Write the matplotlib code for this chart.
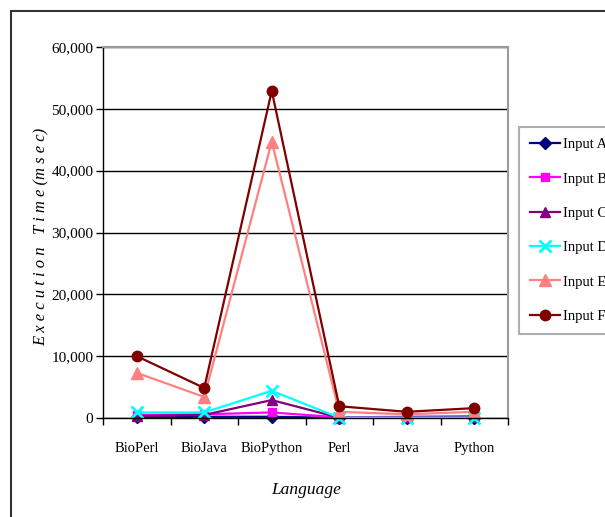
import matplotlib
matplotlib.use("Agg")
import matplotlib.pyplot as plt
from matplotlib.patches import Rectangle
from matplotlib.ticker import FuncFormatter, FixedLocator

categories = ["BioPerl", "BioJava", "BioPython", "Perl", "Java", "Python"]
input_a = [100, 200, 200, 20, 50, 50]
input_b = [500, 600, 900, 100, 200, 300]
input_c = [300, 500, 2900, 50, 100, 100]
input_d = [900, 900, 4400, 50, 50, 50]
input_e = [7300, 3400, 44700, 1000, 600, 1000]
input_f = [10000, 4850, 52900, 1900, 1000, 1600]
series_names = ["Input A", "Input B", "Input C", "Input D", "Input E", "Input F"]
y_ticks = [0, 10000, 20000, 30000, 40000, 50000, 60000]

plt.rcParams['font.family'] = ['Liberation Serif', 'DejaVu Serif']

W, H = 605, 517
fig = plt.figure(figsize=(W / 100, H / 100), dpi=100)
ax = fig.add_axes([103 / W, 1 - 418 / H, (508 - 103) / W, (418 - 47) / H])

styles = [
    dict(color="#000080", marker="D", ms=6),
    dict(color="#FF00FF", marker="s", ms=6),
    dict(color="#800080", marker="^", ms=7),
    dict(color="#00FFFF", marker="x", ms=8, mew=2),
    dict(color="#FF8080", marker="^", ms=8),
    dict(color="#800000", marker="o", ms=7.5),
]
data = [input_a, input_b, input_c, input_d, input_e, input_f]
x = list(range(len(categories)))
lines = []
for name, vals, st in zip(series_names, data, styles):
    l, = ax.plot(x, vals, lw=1.6, label=name, clip_on=False, **st)
    lines.append(l)

ax.set_xlim(-0.5, len(categories) - 0.5)
ax.set_ylim(0, 60000)
ax.set_yticks(y_ticks)
ax.yaxis.set_major_formatter(FuncFormatter(lambda v, p: f"{int(v):,}"))
ax.yaxis.grid(True, color="black", lw=1)
ax.set_axisbelow(True)
ax.set_xticks(x)
ax.set_xticklabels(categories, fontsize=10.5)
ax.tick_params(axis='x', which='major', length=0, pad=17)
ax.xaxis.set_minor_locator(FixedLocator([i - 0.5 for i in range(len(categories) + 1)]))
ax.tick_params(axis='x', which='minor', length=5, direction='out', width=1, color='black')
ax.tick_params(axis='y', length=5, direction='out', width=1, labelsize=11, color='black', pad=2)
for s in ["top", "right"]:
    ax.spines[s].set_color("#9a9a9a")
    ax.spines[s].set_linewidth(1.5)
for s in ["left", "bottom"]:
    ax.spines[s].set_color("black")
    ax.spines[s].set_linewidth(1)

fig.text(42 / W, 1 - 237 / H, "E x e c u t i o n   T i m e (m s e c)", rotation=90,
         ha="center", va="center", fontsize=12, style="italic")
fig.text(306 / W, 1 - 490 / H, "Language", ha="center", va="center",
         fontsize=12.5, style="italic")

leg = fig.legend(handles=lines, loc="upper left", bbox_to_anchor=(519 / W, 1 - 127 / H),
                 frameon=True, fontsize=10.5, handlelength=2.05, labelspacing=1.45,
                 borderpad=0.75, borderaxespad=0, handletextpad=0.25, fancybox=False)
leg.get_frame().set_edgecolor("#9a9a9a")
leg.get_frame().set_linewidth(1.5)

fig.patches.append(Rectangle((11 / W, -0.1), 1.2, 1 - 11 / H + 0.1, transform=fig.transFigure,
                             fill=False, edgecolor="#333333", lw=1.5))

fig.savefig("out.png", dpi=100)
